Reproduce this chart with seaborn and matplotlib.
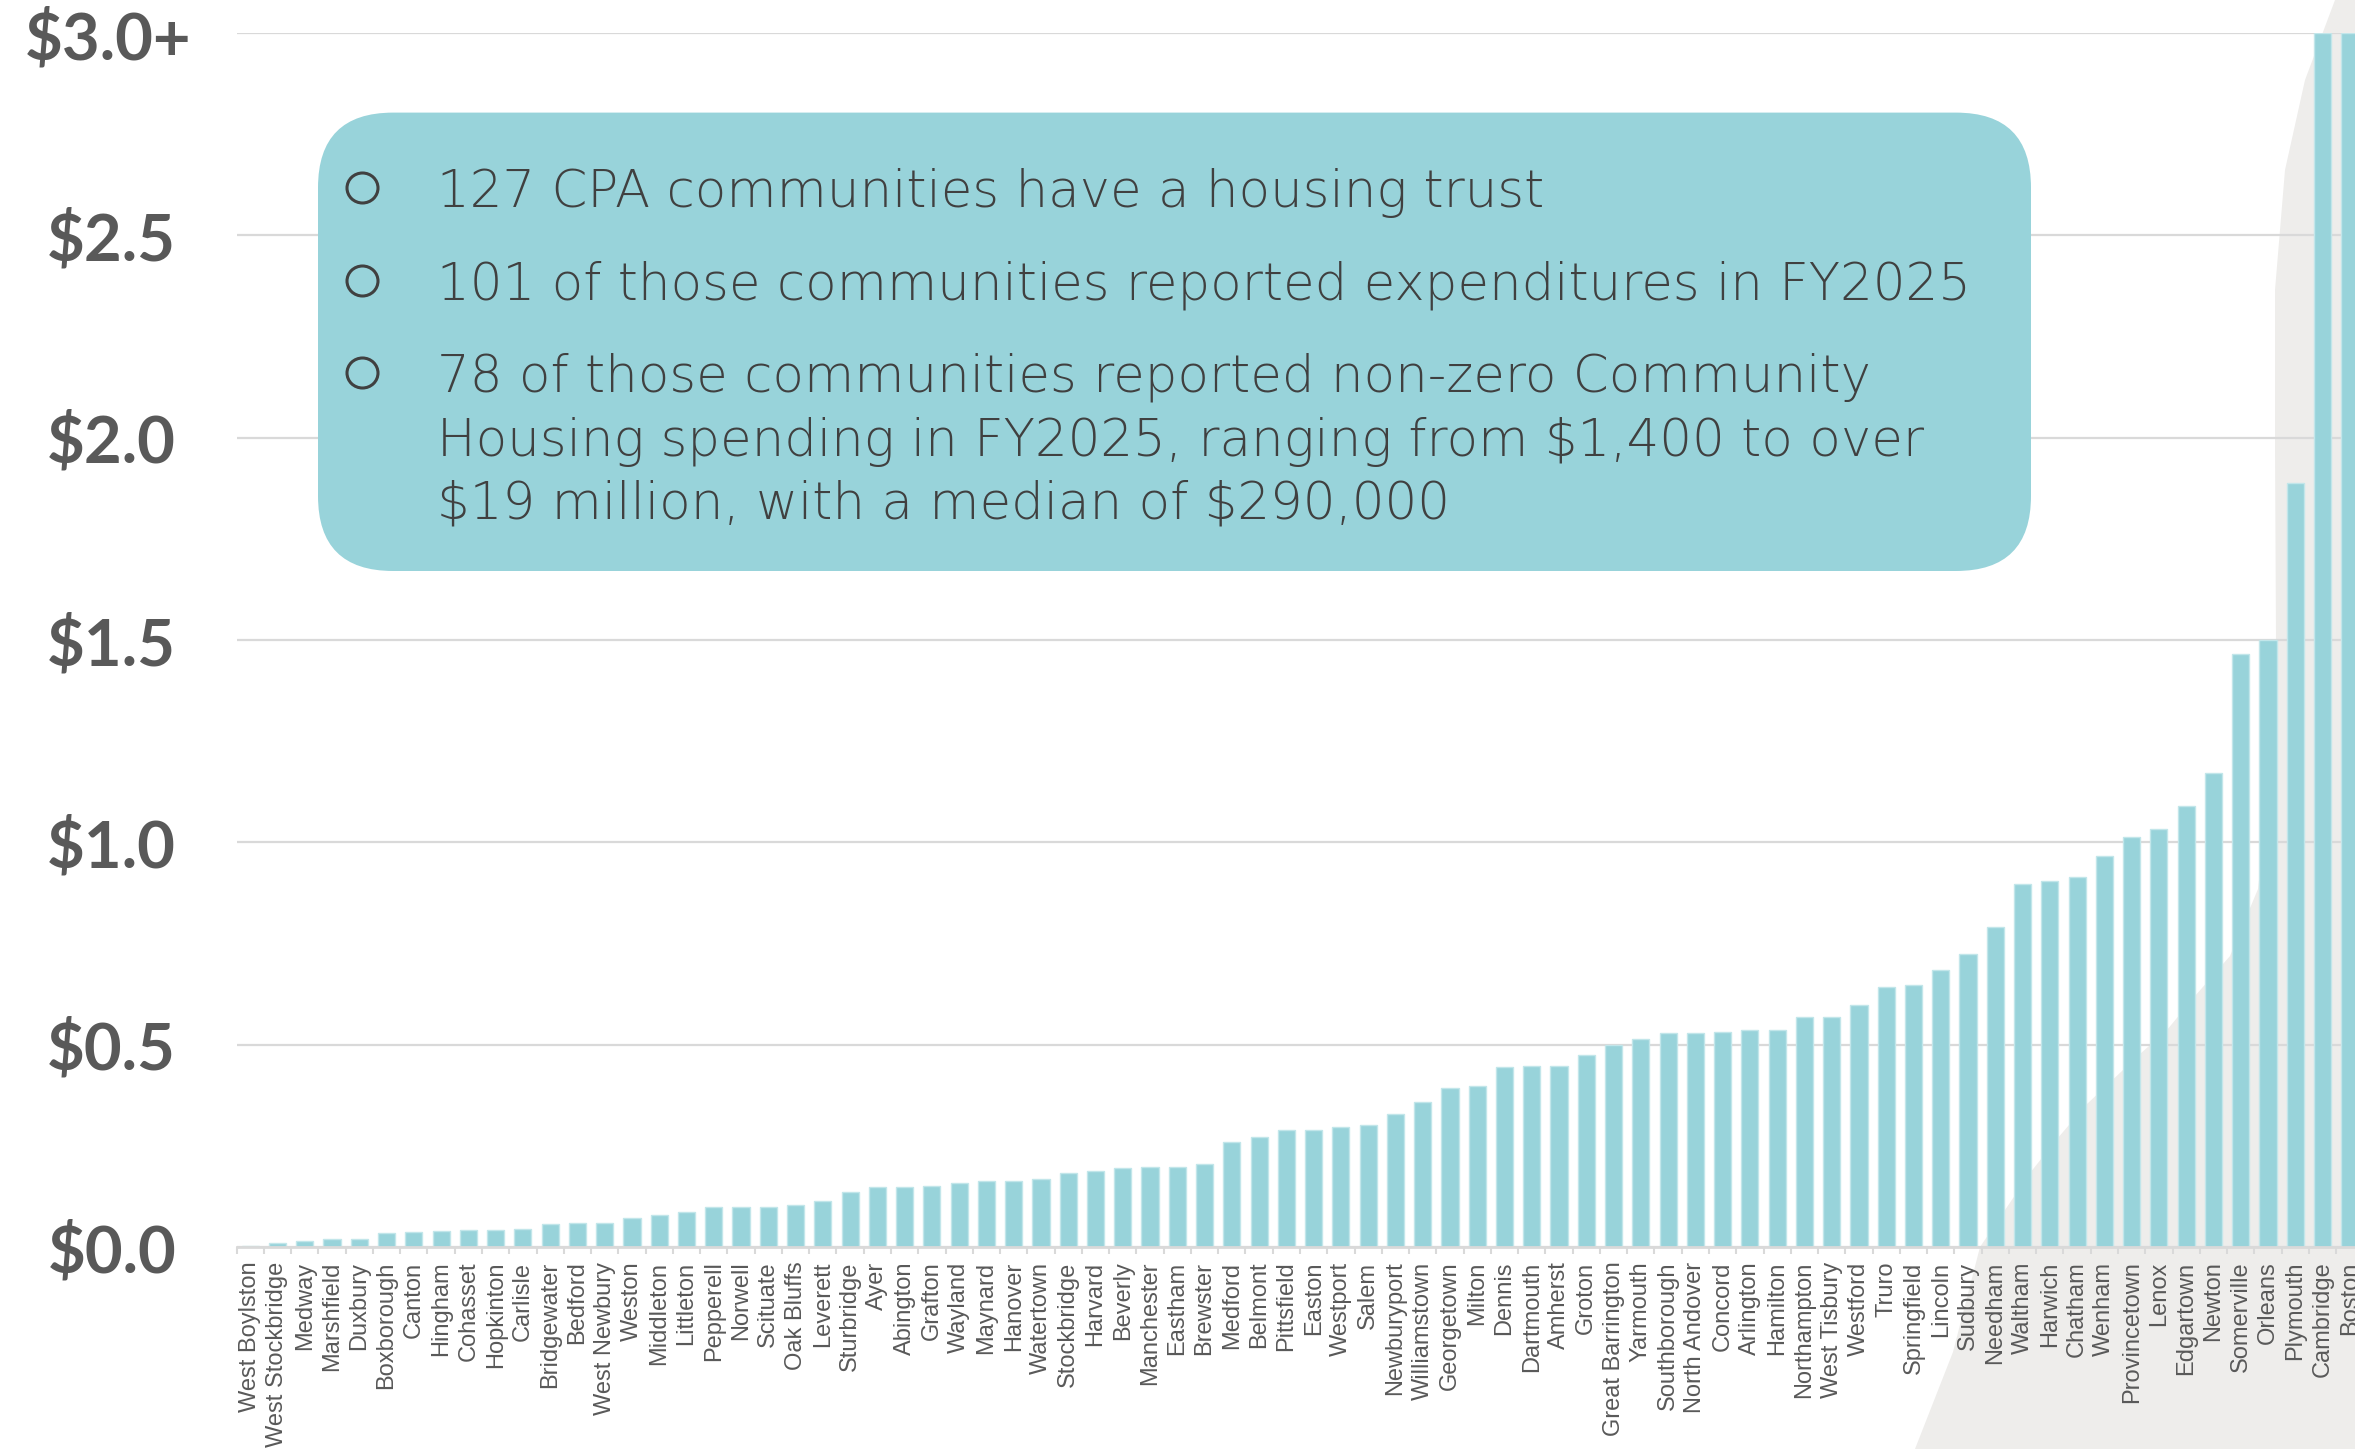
import numpy as np
import pandas as pd
import matplotlib.pyplot as plt
import seaborn as sns
from matplotlib.patches import FancyBboxPatch, Polygon, Ellipse
from matplotlib.ticker import FixedLocator

# FY2025 Community Housing spending by housing trust communities ($ millions)
towns = [
    'West Boylston', 'West Stockbridge', 'Medway', 'Marshfield', 'Duxbury',
    'Boxborough', 'Canton', 'Hingham', 'Cohasset', 'Hopkinton', 'Carlisle',
    'Bridgewater', 'Bedford', 'West Newbury', 'Weston', 'Middleton',
    'Littleton', 'Pepperell', 'Norwell', 'Scituate', 'Oak Bluffs', 'Leverett',
    'Sturbridge', 'Ayer', 'Abington', 'Grafton', 'Wayland', 'Maynard',
    'Hanover', 'Watertown', 'Stockbridge', 'Harvard', 'Beverly', 'Manchester',
    'Eastham', 'Brewster', 'Medford', 'Belmont', 'Pittsfield', 'Easton',
    'Westport', 'Salem', 'Newburyport', 'Williamstown', 'Georgetown', 'Milton',
    'Dennis', 'Dartmouth', 'Amherst', 'Groton', 'Great Barrington', 'Yarmouth',
    'Southborough', 'North Andover', 'Concord', 'Arlington', 'Hamilton',
    'Northampton', 'West Tisbury', 'Westford', 'Truro', 'Springfield',
    'Lincoln', 'Sudbury', 'Needham', 'Waltham', 'Harwich', 'Chatham', 'Wenham',
    'Provincetown', 'Lenox', 'Edgartown', 'Newton', 'Somerville', 'Orleans',
    'Plymouth', 'Cambridge', 'Boston',
]
spending = [
    0.0014, 0.011, 0.016, 0.019, 0.019,
    0.034, 0.038, 0.039, 0.041, 0.043, 0.045,
    0.056, 0.059, 0.060, 0.071, 0.078,
    0.087, 0.098, 0.098, 0.098, 0.105, 0.113,
    0.137, 0.148, 0.148, 0.151, 0.157, 0.162,
    0.163, 0.168, 0.184, 0.189, 0.196, 0.198,
    0.198, 0.204, 0.259, 0.273, 0.288, 0.289,
    0.297, 0.301, 0.329, 0.358, 0.393, 0.397,
    0.444, 0.447, 0.447, 0.475, 0.499, 0.515,
    0.530, 0.530, 0.531, 0.537, 0.537,
    0.569, 0.569, 0.598, 0.643, 0.648,
    0.685, 0.725, 0.792, 0.897, 0.904, 0.914, 0.966,
    1.012, 1.032, 1.089, 1.172, 1.466, 1.501,
    1.888, 3.0, 19.0,
]
cap = 3.0
ytick_vals = [0.0, 0.5, 1.0, 1.5, 2.0, 2.5, 3.0]
ytick_text = ['$0.0', '$0.5', '$1.0', '$1.5', '$2.0', '$2.5', '']
top_label = '$3.0+'

notes = [
    ('127 CPA communities have a housing trust', True),
    ('101 of those communities reported expenditures in FY2025', True),
    ('78 of those communities reported non-zero Community', True),
    ('Housing spending in FY2025, ranging from \\$1,400 to over', False),
    ('\\$19 million, with a median of \\$290,000', False),
]

BAR = '#98D3DA'
GRID = '#d9d9d9'
LABEL = '#595959'
TEXT = '#404040'

sns.set_theme(style='white')
plt.rcParams['font.family'] = ['Liberation Sans', 'DejaVu Sans']

df = pd.DataFrame({'Town': towns, 'Spending': spending})
df['Shown'] = df['Spending'].clip(upper=cap)

W, H = 2355, 1449
fig = plt.figure(figsize=(W / 100, H / 100), dpi=100)
ax = fig.add_axes([236.6 / W, 202 / H, 2126.8 / W, 1214 / H])
ax.set_facecolor('none')

# light grey decorative shape behind the right end of the chart
edge_px = [(2335, 0), (2305, 80), (2285, 170), (2275, 290), (2275, 446),
           (2276, 640), (2268, 800), (2258, 889), (2230, 956), (2195, 996),
           (2167, 1030), (2140, 1054), (2087, 1104), (2057, 1139), (2030, 1173),
           (2003, 1213), (1980, 1247), (1953, 1352), (1915, 1449),
           (W, H), (W, 0)]
verts = [(x / W, 1 - y / H) for x, y in edge_px]
fig.add_artist(Polygon(verts, closed=True, transform=fig.transFigure,
                       facecolor='#EEEDEB', edgecolor='none', zorder=-10))

sns.barplot(data=df, x='Town', y='Shown', color=BAR, saturation=1,
            width=0.63, edgecolor='#c2e6ea', linewidth=1, ax=ax, zorder=3)

n = len(towns)
ax.set_xlim(-0.5, n - 0.5)
ax.set_ylim(0, cap)
ax.set_xlabel('')
ax.set_ylabel('')

for s in ['top', 'right', 'left']:
    ax.spines[s].set_visible(False)
ax.spines['bottom'].set_color(GRID)
ax.spines['bottom'].set_linewidth(2)
ax.spines['bottom'].set_zorder(4)

ax.set_yticks(ytick_vals)
ax.set_yticklabels(ytick_text)
ax.yaxis.grid(True, color=GRID, linewidth=1.6)
ax.set_axisbelow(True)
ax.tick_params(axis='y', length=0, pad=43.5, labelsize=47, labelcolor=LABEL)
for lab in ax.get_yticklabels():
    lab.set_fontfamily(['Lato', 'DejaVu Sans'])
    lab.set_fontweight('bold')
fig.text(191 / W, 1 - 40 / H, top_label, ha='right', va='center',
         fontsize=47, fontweight='bold', color=LABEL,
         family=['Lato', 'DejaVu Sans'])

ax.tick_params(axis='x', which='major', length=0, pad=10.5, labelsize=17,
               labelcolor=LABEL, rotation=90)
ax.xaxis.set_minor_locator(FixedLocator(np.arange(-0.5, n, 1.0)))
ax.tick_params(axis='x', which='minor', bottom=True, length=5, width=1.5,
               color=GRID)

# rounded call-out box with bullet notes
box = FancyBboxPatch((3.18, 8.78), 17.13, 4.584,
                     boxstyle='round,pad=0,rounding_size=0.75',
                     transform=fig.dpi_scale_trans, facecolor=BAR,
                     edgecolor='none', zorder=5)
fig.add_artist(box)

baselines = [207, 300, 392, 456, 518]
for (line, bullet), yb in zip(notes, baselines):
    fig.text(437 / W, 1 - yb / H, line, ha='left', va='baseline',
             fontsize=37, fontweight='light', color=TEXT,
             family=['DejaVu Sans'], zorder=6)
    if bullet:
        fig.add_artist(Ellipse((3.625, (H - (yb - 19)) / 100), 0.31, 0.30,
                               transform=fig.dpi_scale_trans,
                               facecolor='none', edgecolor=TEXT,
                               linewidth=2.2, zorder=6))

fig.savefig('out.png', dpi=100)
